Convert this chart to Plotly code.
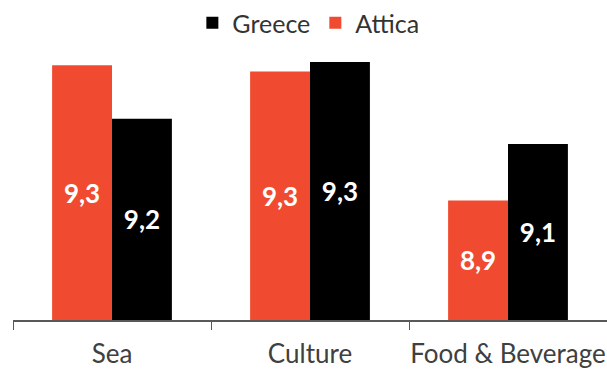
import plotly.graph_objects as go

# Satisfaction scores by theme
categories = ["Sea", "Culture", "Food & Beverage"]
attica = [9.33, 9.31, 8.90]
greece = [9.16, 9.34, 9.08]

BASE = 8.52          # value axis starts here; bars rise from this level
TOP = 9.3785

RED = "#F04B30"
BLACK = "#000000"
FONT = "Lato"


def bar(name, values, color):
    return go.Bar(
        name=name, x=categories,
        y=[v - BASE for v in values], base=BASE,
        customdata=values,
        marker_color=color, marker_line_width=0,
        texttemplate="%{customdata:.1f}", textposition="inside",
        insidetextanchor="middle", textangle=0,
        textfont=dict(color="white", size=26, family=FONT, weight="bold"),
        hovertemplate="%{x}: %{customdata:.2f}<extra>" + name + "</extra>",
    )


fig = go.Figure([bar("Attica", attica, RED), bar("Greece", greece, BLACK)])

fig.update_layout(
    width=607, height=369,
    margin=dict(l=13, r=0, t=50, b=49, autoexpand=False),
    paper_bgcolor="white", plot_bgcolor="white",
    barmode="group", bargap=0.395, bargroupgap=0,
    separators=",.",
    font=dict(family=FONT, color="#404040", size=25),
    showlegend=True,
    legend=dict(
        orientation="h", traceorder="reversed",
        x=0.508, xanchor="center", xref="container",
        y=1, yanchor="top", yref="container",
        font=dict(size=25, color="#333333", family=FONT),
        itemwidth=30,
    ),
    uniformtext=dict(mode=False),
)
fig.update_xaxes(
    type="category", tickson="boundaries", ticks="outside", ticklen=8,
    tickcolor="#595959", showline=True, linecolor="#595959", linewidth=1.5,
    tickfont=dict(size=26, color="#404040", family=FONT), showgrid=False,
    tickangle=0, automargin=False, ticklabelstandoff=10,
)
fig.update_yaxes(visible=False, range=[BASE, TOP], showgrid=False,
                 automargin=False)

fig.write_html("out.html")
